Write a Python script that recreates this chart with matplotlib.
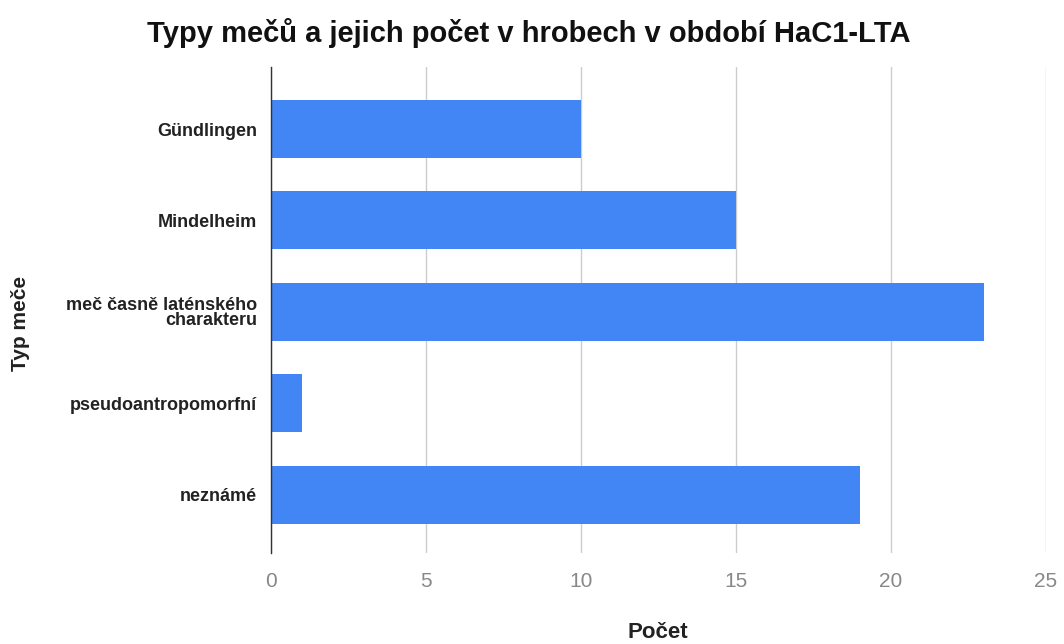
import matplotlib
matplotlib.use("Agg")
import matplotlib.pyplot as plt

categories = ["Gündlingen", "Mindelheim", "meč časně laténského\ncharakteru",
              "pseudoantropomorfní", "neznámé"]
values = [10, 15, 23, 1, 19]
xticks = [0, 5, 10, 15, 20, 25]

plt.rcParams['font.family'] = ['Liberation Sans', 'DejaVu Sans']

fig = plt.figure(figsize=(10.64, 6.44), dpi=100)
ax = fig.add_axes([271/1064, 1-553/644, (1046-271)/1064, (553-67)/644])

ypos = list(range(len(categories)))
ax.barh(ypos, values, height=0.635, color="#4285F4", zorder=3)
ax.set_xlim(0, 25)
ax.set_ylim(4.64, -0.68)
ax.set_xticks(xticks)
ax.set_xticklabels([str(t) for t in xticks], color="#888888", fontsize=15)
ax.set_yticks(ypos)
ax.set_yticklabels(categories, fontsize=13, fontweight="bold", color="#222222",
                   linespacing=0.85)
ax.tick_params(axis='both', length=0)
ax.tick_params(axis='x', pad=14)
ax.tick_params(axis='y', pad=10)
ax.grid(axis='x', color="#cccccc", linewidth=1, zorder=0)
for s in ["top", "right", "bottom"]:
    ax.spines[s].set_visible(False)
ax.spines["left"].set_color("#333333")
ax.spines["left"].set_linewidth(1)
ax.spines["left"].set_zorder(4)

fig.text(529/1064, 1-33/644, "Typy mečů a jejich počet v hrobech v období HaC1-LTA",
         ha="center", va="center", fontsize=21, fontweight="bold", color="#111111")
fig.text(658/1064, 1-632/644, "Počet", ha="center", va="center",
         fontsize=16, fontweight="bold", color="#222222")
fig.text(21/1064, 1-323/644, "Typ meče", ha="center", va="center", rotation=90,
         fontsize=15, fontweight="bold", color="#222222")

fig.savefig("out.png", dpi=100, facecolor="white")
